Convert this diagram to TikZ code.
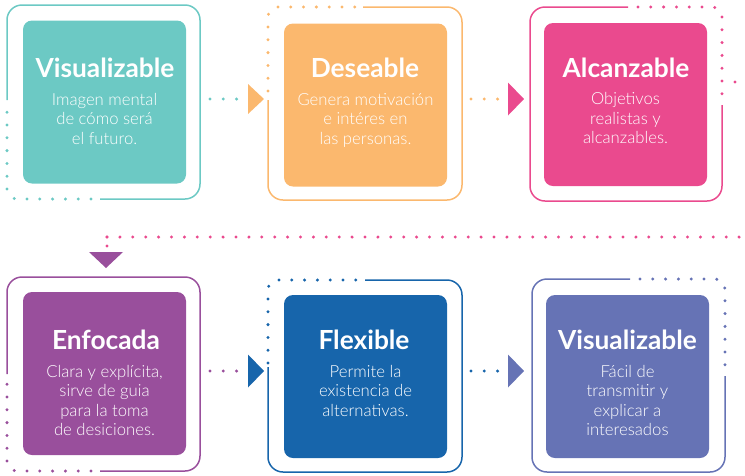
\documentclass[tikz,border=0pt]{standalone}
\usepackage{fontspec}
\setmainfont{Lato}
\newfontfamily\lightfont{Lato Light}
\definecolor{cteal}{HTML}{6CC9C4}
\definecolor{corange}{HTML}{FBB86E}
\definecolor{cpink}{HTML}{EA4A8E}
\definecolor{cpurple}{HTML}{994F9C}
\definecolor{cblue}{HTML}{1765AB}
\definecolor{cindigo}{HTML}{6673B5}
\begin{document}
\begin{tikzpicture}[x=1pt,y=-1pt,
  innerbox/.style={rounded corners=9pt, minimum width=163pt, minimum height=163pt, inner sep=0pt},
  frameline/.style={line width=1.5pt, rounded corners=15pt},
  dotline/.style={line width=3.3pt, line cap=round, dash pattern=on 0pt off 12.8pt, rounded corners=10pt},
  ttl/.style={text=white, font=\fontsize{26.3}{30}\selectfont\bfseries, anchor=base, inner sep=0pt},
  bdy/.style={text=white, font=\lightfont\fontsize{16.7}{19.5}\selectfont, align=center, anchor=base, inner sep=0pt}]
\useasboundingbox (0,0) rectangle (745,475);

% ---------- Panel 1 (teal)
\node[innerbox, fill=cteal] (b1) at (104.5,102) {};
\node[ttl] (h1) at (105,77) {Visualizable};
\node[bdy] (d1) at (104.5,144) {Imagen mental\\de cómo será\\el futuro.};
\draw[frameline, cteal] (7,100) -- (7,5) -- (200,5) -- (200,199) -- (100,199);
\draw[dotline, cteal] (91,199) -- (7,199) -- (7,111);

% ---------- Panel 2 (orange)
\node[innerbox, fill=corange] (b2) at (365.5,105) {};
\node[ttl] (h2) at (365,77) {Deseable};
\node[bdy] (d2) at (365.5,144) {Genera motivación\\e intéres en\\las personas.};
\draw[frameline, corange] (363,7) -- (462,7) -- (462,200) -- (268,200) -- (268,100);
\draw[dotline, corange] (268,91) -- (268,7) -- (357,7);

% ---------- Panel 3 (pink)
\node[innerbox, fill=cpink] (b3) at (625.5,104.5) {};
\node[ttl] (h3) at (626,77) {Alcanzable};
\node[bdy] (d3) at (625.5,143.5) {Objetivos\\realistas y\\alcanzables.};
\draw[frameline, cpink] (628,7) -- (530,7) -- (530,201) -- (722,201) -- (722,105);
\draw[dotline, cpink] (638,7) -- (722,7) -- (722,96);
\fill[cpink] (735,82) circle (1.65pt);

% ---------- Panel 4 (purple)
\node[innerbox, fill=cpurple] (b4) at (104.5,373.5) {};
\node[ttl] (h4) at (106,349) {Enfocada};
\node[bdy] (d4) at (104.5,435.5) {Clara y explícita,\\sirve de guia\\para la toma\\de desiciones.};
\draw[frameline, cpurple] (7,374) -- (7,277) -- (200,277) -- (200,471) -- (100,471);
\draw[dotline, cpurple] (91,471) -- (7,471) -- (7,383);

% ---------- Panel 5 (blue)
\node[innerbox, fill=cblue] (b5) at (365.5,376.5) {};
\node[ttl] (h5) at (364,349) {Flexible};
\node[bdy] (d5) at (365.5,416) {Permite la\\existencia de\\alternativas.};
\draw[frameline, cblue] (365,280) -- (462,280) -- (462,472) -- (268,472) -- (268,367);
\draw[dotline, cblue] (268,363) -- (268,280) -- (356,280);

% ---------- Panel 6 (indigo)
\node[innerbox, fill=cindigo] (b6) at (627.5,376.5) {};
\node[ttl] (h6) at (627.5,349) {Visualizable};
\node[bdy] (d6) at (627.5,435.5) {Fácil de\\transmitir y\\explicar a\\interesados};
\draw[frameline, cindigo] (630,279) -- (532,279) -- (532,472) -- (725,472) -- (725,376);
\draw[dotline, cindigo] (640,279) -- (725,279) -- (725,367);

% ---------- Triangles (arrow heads)
\coordinate (t2) at (264,99);
\coordinate (t3) at (524,99);
\coordinate (t4) at (106,268);
\coordinate (t5) at (264,371);
\coordinate (t6) at (524,371);
\fill[corange] (t2) -- ++(-16,-15) -- ++(0,30) -- cycle;
\fill[cpink] (t3) -- ++(-16,-16.5) -- ++(0,33) -- cycle;
\fill[cpurple] (t4) -- ++(-17,-16) -- ++(34,0) -- cycle;
\fill[cblue] (t5) -- ++(-16,-16.5) -- ++(0,33) -- cycle;
\fill[cindigo] (t6) -- ++(-16,-16.5) -- ++(0,33) -- cycle;

% ---------- Dotted connectors
\coordinate (c1a) at (210,99);  \coordinate (c1b) at (237.5,99);
\coordinate (c2a) at (471,99);  \coordinate (c2b) at (498.5,99);
\coordinate (c3a) at (745,237); \coordinate (c3b) at (107,237); \coordinate (c3c) at (107,246.5);
\coordinate (c4a) at (210,371); \coordinate (c4b) at (237.5,371);
\coordinate (c5a) at (471,371); \coordinate (c5b) at (498.5,371);
\draw[dotline, cteal, dash pattern=on 0pt off 13.3pt] (c1a) -- (c1b);
\draw[dotline, corange, dash pattern=on 0pt off 13.3pt] (c2a) -- (c2b);
\draw[dotline, cpink, dash pattern=on 0pt off 12.9pt] (c3b) -- (c3a);
\draw[dotline, cpink, dash pattern=on 0pt off 9pt] (c3b) -- (c3c);
\draw[dotline, cpurple, dash pattern=on 0pt off 13.3pt] (c4a) -- (c4b);
\draw[dotline, cblue, dash pattern=on 0pt off 13.3pt] (c5a) -- (c5b);
\end{tikzpicture}
\end{document}
